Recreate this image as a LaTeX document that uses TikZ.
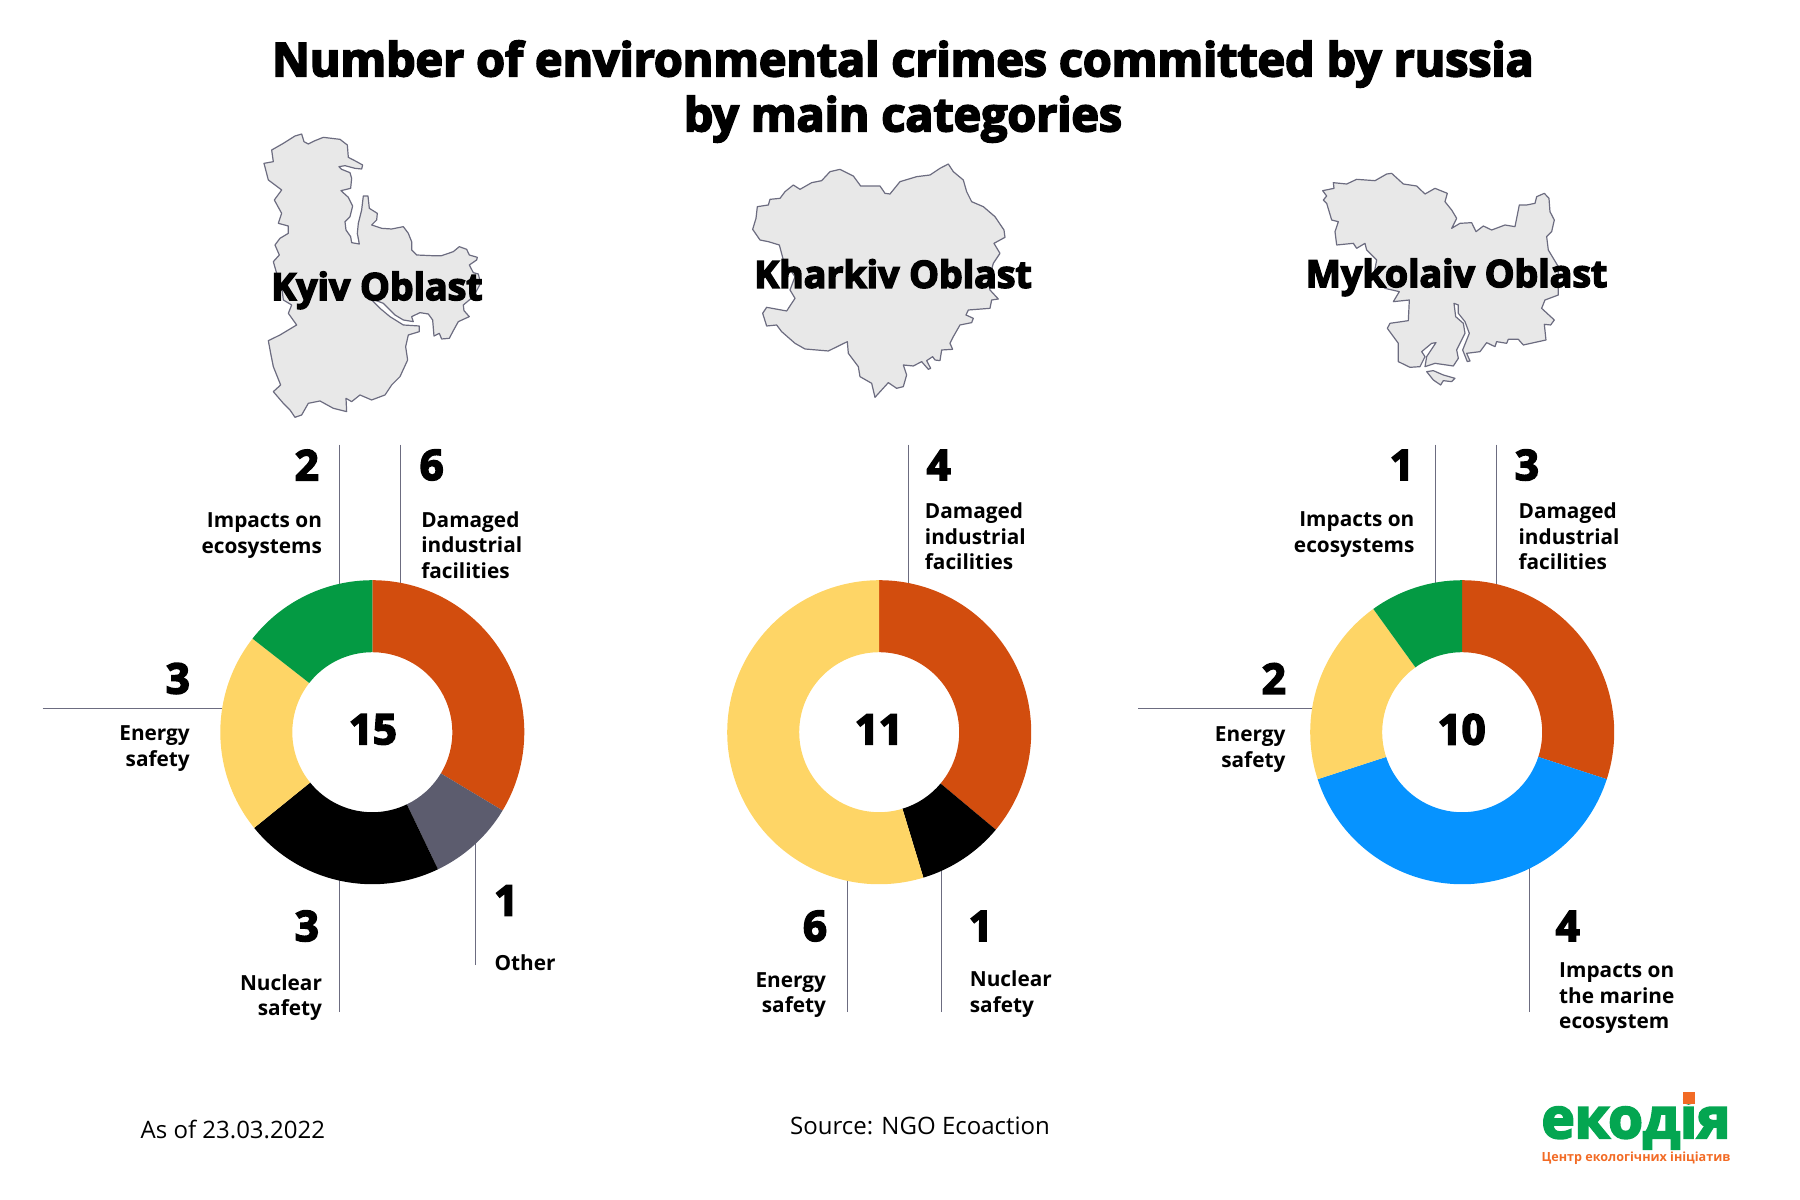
\documentclass[tikz,border=0pt]{standalone}
\usepackage{fontspec}
\setmainfont{Open Sans}[BoldFeatures={FakeBold=4}]
\newfontfamily\labelfont{Open Sans}

\definecolor{crimered}{HTML}{D24D0E}
\definecolor{crimeyellow}{HTML}{FED566}
\definecolor{crimegreen}{HTML}{049A43}
\definecolor{crimegrey}{HTML}{5C5C6E}
\definecolor{crimeblue}{HTML}{0693FF}
\definecolor{maprim}{HTML}{6C6C80}
\definecolor{logogreen}{HTML}{04A651}
\definecolor{logoorange}{HTML}{F26B25}

% one ring sector, angles run clockwise from the top
\newcommand{\ringslice}[3]{%
    \fill[#3] ({90-#1}:152) arc[start angle={90-#1},end angle={90-#2},radius=152]
    -- ({90-#2}:80) arc[start angle={90-#2},end angle={90-#1},radius=80] -- cycle;}

\begin{document}
\begin{tikzpicture}[x=1pt,y=-1pt]
    \tikzset{
        title/.style={font=\fontsize{46.5}{55}\selectfont\bfseries,align=center},
        oblastname/.style={font=\fontsize{37.5}{40}\selectfont\bfseries},
        count/.style={font=\fontsize{42}{44}\selectfont\bfseries},
        total/.style={font=\fontsize{42}{44}\selectfont\bfseries},
        catright/.style={font=\labelfont\fontsize{20.8}{25.5}\selectfont\bfseries,anchor=east,align=right,inner sep=0pt},
        catleft/.style={font=\labelfont\fontsize{20.8}{25.5}\selectfont\bfseries,anchor=west,align=left,inner sep=0pt},
        countright/.style={count,anchor=east,inner sep=0pt},
        countleft/.style={count,anchor=west,inner sep=0pt},
        note/.style={font=\fontsize{24}{28}\selectfont},
        leader/.style={draw=maprim,line width=1.1pt},
        oblast/.style={fill=black!9,draw=maprim,line width=1.2pt,line join=round}
    }
    \useasboundingbox (0,0) rectangle (1800,1200);

    \node[title] (heading) at (903,91.5) {Number of environmental crimes committed by russia\\by main categories};

    % maps, traced in 3x crop coordinates
    \begin{scope}[shift={(240,120)},scale=0.3333]
        \draw[oblast] (185,42) -- (192,65) -- (205,72) -- (225,62) -- (250,52) -- (275,55) -- (300,58) -- (322,75) -- (325,112) -- (350,125) -- (368,135) -- (365,147) -- (345,145) -- (315,137) -- (297,140) -- (305,148) -- (330,158) -- (335,175) -- (332,205) -- (303,212) -- (325,232) -- (338,258) -- (330,290) -- (315,305) -- (318,330) -- (332,350) -- (335,368) -- (358,372) -- (352,340) -- (355,310) -- (365,270) -- (370,228) -- (384,228) -- (388,265) -- (412,280) -- (410,300) -- (395,315) -- (425,325) -- (455,327) -- (490,320) -- (505,340) -- (515,365) -- (515,390) -- (530,405) -- (575,407) -- (605,407) -- (640,395) -- (658,380) -- (680,388) -- (688,405) -- (712,412) -- (710,420) -- (688,435) -- (700,458) -- (715,462) -- (722,490) -- (700,530) -- (670,555) -- (672,572) -- (688,590) -- (655,605) -- (640,632) -- (628,655) -- (605,657) -- (598,640) -- (582,648) -- (578,600) -- (565,582) -- (540,578) -- (515,590) -- (520,605) -- (490,600) -- (465,585) -- (430,550) -- (390,535) -- (420,565) -- (450,590) -- (490,615) -- (538,618) -- (538,635) -- (505,645) -- (497,680) -- (503,720) -- (480,770) -- (455,795) -- (435,825) -- (395,840) -- (360,825) -- (335,845) -- (318,835) -- (320,875) -- (280,865) -- (240,843) -- (205,850) -- (185,885) -- (165,892) -- (150,870) -- (130,850) -- (100,815) -- (122,795) -- (100,740) -- (92,700) -- (85,662) -- (120,645) -- (170,615) -- (145,580) -- (155,555) -- (130,540) -- (125,500) -- (110,460) -- (100,425) -- (118,405) -- (105,375) -- (120,355) -- (145,340) -- (145,318) -- (115,310) -- (125,280) -- (103,240) -- (125,210) -- (85,180) -- (72,130) -- (100,125) -- (95,90) -- (130,70) -- (165,48) -- cycle;
    \end{scope}
    \begin{scope}[shift={(740,150)},scale=0.3333]
        \draw[oblast] (625,42) -- (640,65) -- (670,90) -- (680,125) -- (695,155) -- (730,170) -- (765,200) -- (792,240) -- (795,262) -- (762,280) -- (780,310) -- (760,340) -- (745,395) -- (750,420) -- (775,447) -- (755,450) -- (750,475) -- (685,480) -- (678,495) -- (700,505) -- (695,518) -- (660,525) -- (640,560) -- (630,580) -- (638,598) -- (605,600) -- (600,632) -- (585,630) -- (578,620) -- (560,632) -- (572,655) -- (565,658) -- (545,635) -- (520,648) -- (490,645) -- (500,675) -- (490,710) -- (470,715) -- (445,698) -- (405,742) -- (395,700) -- (360,680) -- (355,650) -- (325,610) -- (322,575) -- (265,603) -- (195,597) -- (165,580) -- (125,545) -- (110,525) -- (80,528) -- (68,490) -- (80,472) -- (140,483) -- (165,445) -- (150,420) -- (165,380) -- (130,330) -- (118,285) -- (85,275) -- (60,270) -- (38,238) -- (48,205) -- (52,170) -- (85,165) -- (90,148) -- (120,145) -- (135,125) -- (160,105) -- (180,118) -- (215,98) -- (245,92) -- (270,65) -- (300,58) -- (340,78) -- (362,108) -- (420,108) -- (435,130) -- (450,132) -- (480,95) -- (530,80) -- (570,75) -- (600,55) -- cycle;
    \end{scope}
    \begin{scope}[shift={(1310,160)},scale=0.3333]
        \draw[oblast] (38,92) -- (72,85) -- (70,68) -- (110,72) -- (140,58) -- (195,62) -- (230,42) -- (245,40) -- (280,72) -- (320,78) -- (345,102) -- (375,85) -- (412,100) -- (405,125) -- (425,150) -- (440,175) -- (425,205) -- (450,190) -- (485,188) -- (498,215) -- (520,198) -- (545,210) -- (585,195) -- (615,200) -- (628,135) -- (650,135) -- (675,130) -- (680,110) -- (703,100) -- (717,115) -- (720,155) -- (733,180) -- (725,215) -- (710,230) -- (715,270) -- (745,320) -- (745,405) -- (705,420) -- (695,445) -- (733,480) -- (722,495) -- (703,493) -- (708,540) -- (640,555) -- (625,538) -- (595,538) -- (590,550) -- (560,545) -- (555,560) -- (530,548) -- (510,575) -- (470,580) -- (480,603) -- (472,605) -- (458,570) -- (478,520) -- (465,485) -- (445,460) -- (445,435) -- (432,430) -- (437,470) -- (460,490) -- (465,520) -- (440,570) -- (445,595) -- (430,618) -- (375,610) -- (345,620) -- (350,590) -- (378,548) -- (365,550) -- (335,575) -- (345,590) -- (330,620) -- (300,622) -- (265,605) -- (265,550) -- (232,505) -- (240,490) -- (295,482) -- (298,420) -- (250,425) -- (268,395) -- (225,385) -- (190,355) -- (200,300) -- (170,270) -- (165,250) -- (140,265) -- (130,250) -- (80,255) -- (75,215) -- (85,185) -- (65,180) -- (50,130) -- (40,120) -- (50,108) -- cycle;
        \draw[oblast] (350,635) -- (370,632) -- (400,645) -- (435,655) -- (425,665) -- (400,662) -- (392,675) -- (370,660) -- cycle;
    \end{scope}

    \node[oblastname] (kyivname) at (377,290.3) {Kyiv Oblast};
    \node[oblastname] (kharkivname) at (893,273.7) {Kharkiv Oblast};
    \node[oblastname] (mykolaivname) at (1456.5,277.3) {Mykolaiv Oblast};

    % leader lines, they run under the rings
    \coordinate (kyivAtop) at (339.3,444.5);  \coordinate (kyivAend) at (339.3,600);
    \coordinate (kyivBtop) at (400.4,444.5);  \coordinate (kyivBend) at (400.4,600);
    \coordinate (kyivCtop) at (42.5,708.5);   \coordinate (kyivCend) at (240,708.5);
    \coordinate (kyivDtop) at (339.3,1012);   \coordinate (kyivDend) at (339.3,870);
    \coordinate (kyivEtop) at (475.4,965);    \coordinate (kyivEend) at (475.4,830);
    \coordinate (kharAtop) at (908.3,444.5);  \coordinate (kharAend) at (908.3,600);
    \coordinate (kharBtop) at (847.3,1012);   \coordinate (kharBend) at (847.3,870);
    \coordinate (kharCtop) at (941.3,1012);   \coordinate (kharCend) at (941.3,860);
    \coordinate (mykoAtop) at (1435.3,444.5); \coordinate (mykoAend) at (1435.3,600);
    \coordinate (mykoBtop) at (1496.5,444.5); \coordinate (mykoBend) at (1496.5,600);
    \coordinate (mykoCtop) at (1138,708.6);   \coordinate (mykoCend) at (1330,708.6);
    \coordinate (mykoDtop) at (1529.6,1012);  \coordinate (mykoDend) at (1529.6,860);
    \draw[leader] (kyivAtop) -- (kyivAend);
    \draw[leader] (kyivBtop) -- (kyivBend);
    \draw[leader] (kyivCtop) -- (kyivCend);
    \draw[leader] (kyivDtop) -- (kyivDend);
    \draw[leader] (kyivEtop) -- (kyivEend);
    \draw[leader] (kharAtop) -- (kharAend);
    \draw[leader] (kharBtop) -- (kharBend);
    \draw[leader] (kharCtop) -- (kharCend);
    \draw[leader] (mykoAtop) -- (mykoAend);
    \draw[leader] (mykoBtop) -- (mykoBend);
    \draw[leader] (mykoCtop) -- (mykoCend);
    \draw[leader] (mykoDtop) -- (mykoDend);

    % rings
    \begin{scope}[shift={(372.3,732.2)},x=1pt,y=1pt]
        \ringslice{0}{121}{crimered}
        \ringslice{121}{154.4}{crimegrey}
        \ringslice{154.4}{231}{black}
        \ringslice{231}{308}{crimeyellow}
        \ringslice{308}{360}{crimegreen}
    \end{scope}
    \begin{scope}[shift={(879.2,732.2)},x=1pt,y=1pt]
        \ringslice{0}{129.9}{crimered}
        \ringslice{129.9}{163.1}{black}
        \ringslice{163.1}{360}{crimeyellow}
    \end{scope}
    \begin{scope}[shift={(1462.2,732.2)},x=1pt,y=1pt]
        \ringslice{0}{108}{crimered}
        \ringslice{108}{252}{crimeblue}
        \ringslice{252}{324.2}{crimeyellow}
        \ringslice{324.2}{360}{crimegreen}
    \end{scope}

    \node[total] (kyivtotal) at (372.9,729.4) {15};
    \node[total] (kharkivtotal) at (878.8,729.4) {11};
    \node[total] (mykolaivtotal) at (1461.6,729.4) {10};

    % Kyiv Oblast
    \node[countright] (kyivAnum) at (319,465) {2};
    \node[catright] (kyivAtxt) at (322.2,535.6) {Impacts on\\ecosystems};
    \node[countleft] (kyivBnum) at (419.5,465) {6};
    \node[catleft] (kyivBtxt) at (421.1,545) {Damaged\\industrial\\facilities};
    \node[countright] (kyivCnum) at (190,678.5) {3};
    \node[catright] (kyivCtxt) at (190,748.6) {Energy\\safety};
    \node[countright] (kyivDnum) at (319,926) {3};
    \node[catright] (kyivDtxt) at (322.2,997.6) {Nuclear\\safety};
    \node[countleft] (kyivEnum) at (494,900.5) {1};
    \node[catleft] (kyivEtxt) at (494.4,963) {Other};

    % Kharkiv Oblast
    \node[countleft] (kharAnum) at (926.5,465) {4};
    \node[catleft] (kharAtxt) at (924.7,536.6) {Damaged\\industrial\\facilities};
    \node[countright] (kharBnum) at (827.2,926) {6};
    \node[catright] (kharBtxt) at (826.2,995) {Energy\\safety};
    \node[countleft] (kharCnum) at (968.6,926) {1};
    \node[catleft] (kharCtxt) at (969.7,994) {Nuclear\\safety};

    % Mykolaiv Oblast
    \node[countright] (mykoAnum) at (1414,465) {1};
    \node[catright] (mykoAtxt) at (1414.6,534.7) {Impacts on\\ecosystems};
    \node[countleft] (mykoBnum) at (1514.7,465) {3};
    \node[catleft] (mykoBtxt) at (1518.4,536.5) {Damaged\\industrial\\facilities};
    \node[countright] (mykoCnum) at (1286,678.5) {2};
    \node[catright] (mykoCtxt) at (1285.6,749.7) {Energy\\safety};
    \node[countleft] (mykoDnum) at (1555.5,926) {4};
    \node[catleft] (mykoDtxt) at (1559,998.5) {Impacts on\\the marine\\ecosystem};

    \node[note,anchor=west,inner sep=0pt] (asof) at (140.5,1129.3) {As of 23.03.2022};
    \node[note] (source) at (920,1126.3) {Source: NGO Ecoaction};

    % logo
    \node[font=\fontsize{56}{60}\selectfont\bfseries,text=logogreen,anchor=base,inner sep=0pt] (logoword) at (1636,1138) {екодія};
    \fill[logoorange] (1683,1092) rectangle (1695,1104);
    \node[font=\labelfont\fontsize{12.6}{15}\selectfont\bfseries,text=logoorange,anchor=base,inner sep=0pt] (logotag) at (1636,1161) {Центр екологічних ініціатив};
\end{tikzpicture}
\end{document}
